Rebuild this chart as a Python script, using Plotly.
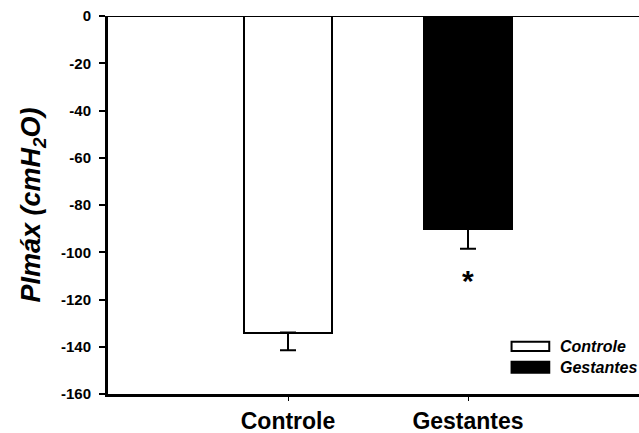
import plotly.graph_objects as go

# Maximal inspiratory pressure by group
groups = ["Controle", "Gestantes"]
positions = [1, 2]
pimax_mean = [-134, -90]
pimax_sd = [7.5, 8.5]
fills = ["white", "black"]
yticks = [0, -20, -40, -60, -80, -100, -120, -140, -160]

FONT = "Arial, 'Liberation Sans', Helvetica, sans-serif"

fig = go.Figure()
for g, xp, m, sd, c in zip(groups, positions, pimax_mean, pimax_sd, fills):
    fig.add_trace(go.Bar(
        x=[xp], y=[m], name=g, width=0.49,
        marker=dict(color=c, line=dict(color="black", width=2)),
        error_y=dict(type="data", symmetric=False, array=[0], arrayminus=[sd],
                     color="black", thickness=2, width=8),
        showlegend=False,
    ))

# significance marker below the Gestantes error bar
fig.add_annotation(x=positions[1], y=pimax_mean[1] - pimax_sd[1], yshift=-32,
                   text="<b>*</b>", showarrow=False,
                   font=dict(family=FONT, size=30, color="black"))

# top border at zero
fig.add_shape(type="line", xref="paper", x0=0, x1=1, yref="y", y0=0, y1=0,
              line=dict(color="black", width=2))

# legend boxes and labels
legend_items = [("Controle", "white", 0.114, 0.138),
                ("Gestantes", "black", 0.056, 0.085)]
for name, col, y0, y1 in legend_items:
    fig.add_shape(type="rect", xref="paper", yref="paper",
                  x0=0.760, x1=0.831, y0=y0, y1=y1,
                  fillcolor=col, line=dict(color="black", width=2))
    fig.add_annotation(xref="paper", yref="paper", x=0.848, y=(y0 + y1) / 2,
                       xanchor="left", yanchor="middle", showarrow=False,
                       text=f"<b><i>{name}</i></b>",
                       font=dict(family=FONT, size=16, color="black"))

fig.update_layout(
    width=639, height=433,
    margin=dict(l=108, r=0, t=16, b=39, autoexpand=False),
    paper_bgcolor="white", plot_bgcolor="white",
    font=dict(family=FONT, color="black"),
    bargap=0,
    xaxis=dict(range=[0, 2.95], tickvals=positions,
               ticktext=[f"<b>{g}</b>" for g in groups],
               tickfont=dict(size=23), ticks="outside",
               ticklen=4, tickwidth=1,
               tickcolor="black", showline=True, linecolor="black", linewidth=3,
               showgrid=False, zeroline=False, automargin=False),
    yaxis=dict(range=[-160, 0], tickvals=yticks,
               ticktext=[f"<b>{v}</b>" for v in yticks],
               tickfont=dict(size=15), ticks="outside",
               ticklen=6, tickwidth=1.5, ticklabelstandoff=5,
               tickcolor="black", showline=True, linecolor="black", linewidth=3,
               showgrid=False, zeroline=False, automargin=False,
               title=dict(text="<b><i>PImáx (cmH<sub>2</sub>O)</i></b>",
                          font=dict(size=27), standoff=13)),
)

fig.write_html("out.html")
